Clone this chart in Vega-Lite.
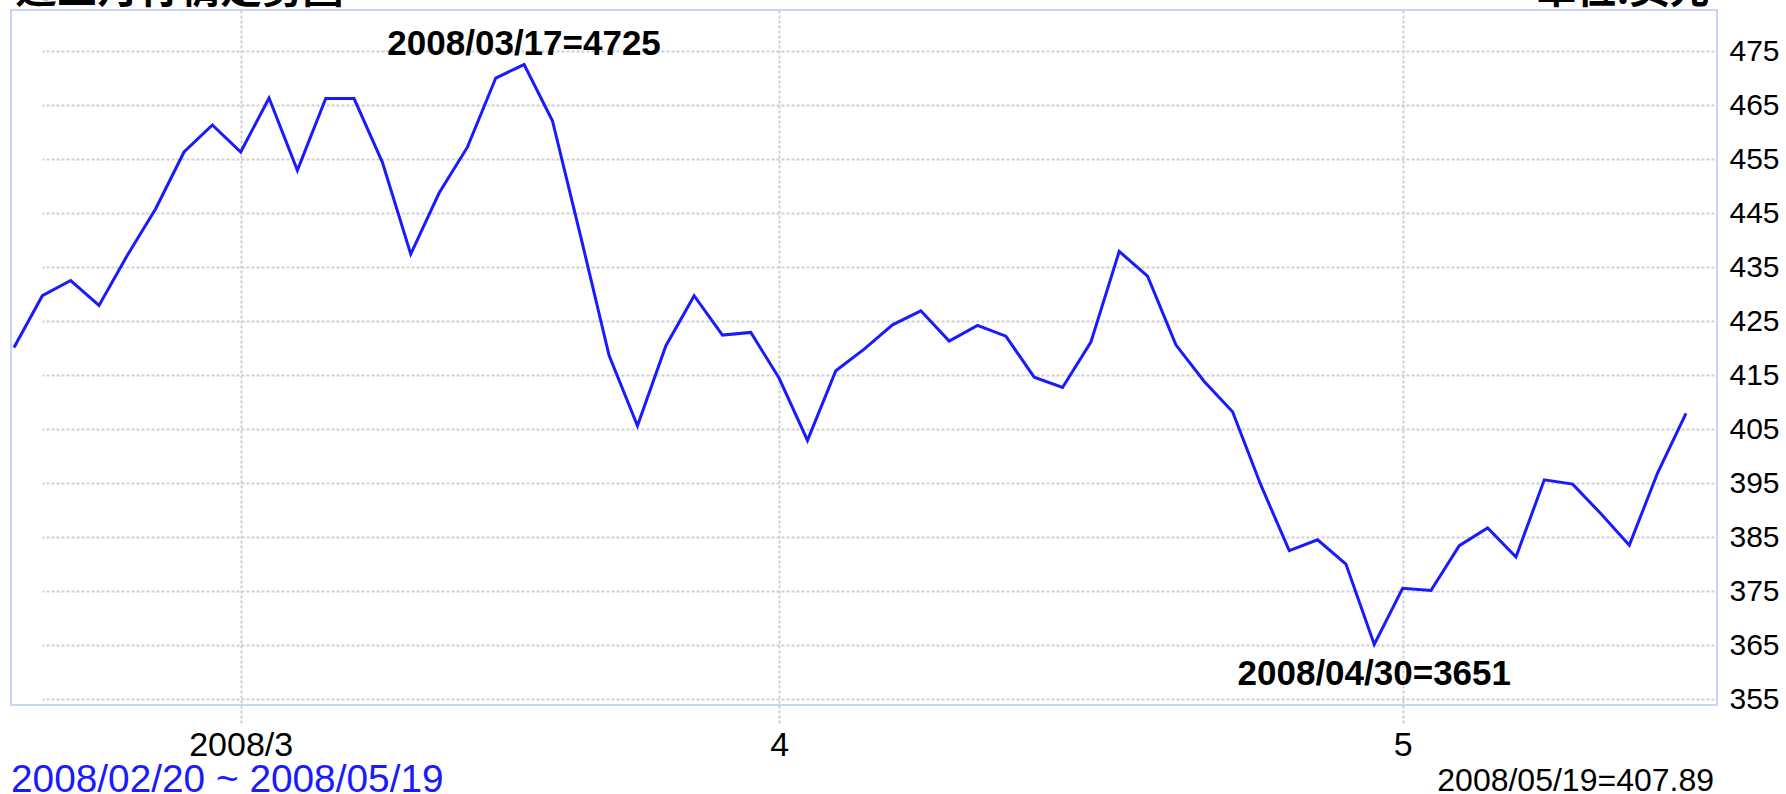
{
  "$schema": "https://vega.github.io/schema/vega-lite/v6.json",
  "width": 1706,
  "height": 695,
  "autosize": {"type": "none"},
  "padding": {"left": 11, "top": 10, "right": 69, "bottom": 89},
  "background": "white",
  "config": {
    "view": {"stroke": "#c8d6f8", "strokeWidth": 2},
    "font": "Liberation Sans"
  },
  "data": {
    "values": [
      {"date": "2008/02/20", "value": 420.1, "label": "2008/02/20 ~ 2008/05/19"},
      {"date": "2008/02/21", "value": 429.7},
      {"date": "2008/02/22", "value": 432.5},
      {"date": "2008/02/25", "value": 427.9},
      {"date": "2008/02/26", "value": 437.2},
      {"date": "2008/02/27", "value": 445.8},
      {"date": "2008/02/28", "value": 456.3},
      {"date": "2008/02/29", "value": 461.3},
      {"date": "2008/03/03", "value": 456.3},
      {"date": "2008/03/04", "value": 466.3},
      {"date": "2008/03/05", "value": 452.9},
      {"date": "2008/03/06", "value": 466.2},
      {"date": "2008/03/07", "value": 466.2},
      {"date": "2008/03/10", "value": 454.4},
      {"date": "2008/03/11", "value": 437.4},
      {"date": "2008/03/12", "value": 448.7},
      {"date": "2008/03/13", "value": 457.2},
      {"date": "2008/03/14", "value": 470.0},
      {"date": "2008/03/17", "value": 472.5, "label": "2008/03/17=4725"},
      {"date": "2008/03/18", "value": 462.1},
      {"date": "2008/03/19", "value": 440.6},
      {"date": "2008/03/20", "value": 418.6},
      {"date": "2008/03/25", "value": 405.6},
      {"date": "2008/03/26", "value": 420.4},
      {"date": "2008/03/27", "value": 429.7},
      {"date": "2008/03/28", "value": 422.4},
      {"date": "2008/03/31", "value": 422.9},
      {"date": "2008/04/01", "value": 414.4},
      {"date": "2008/04/02", "value": 402.9},
      {"date": "2008/04/03", "value": 415.8},
      {"date": "2008/04/04", "value": 419.8},
      {"date": "2008/04/07", "value": 424.3},
      {"date": "2008/04/08", "value": 426.9},
      {"date": "2008/04/09", "value": 421.3},
      {"date": "2008/04/10", "value": 424.2},
      {"date": "2008/04/11", "value": 422.2},
      {"date": "2008/04/14", "value": 414.6},
      {"date": "2008/04/15", "value": 412.7},
      {"date": "2008/04/16", "value": 421.1},
      {"date": "2008/04/17", "value": 437.9},
      {"date": "2008/04/18", "value": 433.3},
      {"date": "2008/04/21", "value": 420.6},
      {"date": "2008/04/22", "value": 413.8},
      {"date": "2008/04/23", "value": 408.2},
      {"date": "2008/04/24", "value": 394.6},
      {"date": "2008/04/25", "value": 382.5},
      {"date": "2008/04/28", "value": 384.5},
      {"date": "2008/04/29", "value": 380.0},
      {"date": "2008/04/30", "value": 365.1, "label": "2008/04/30=3651"},
      {"date": "2008/05/02", "value": 375.5},
      {"date": "2008/05/05", "value": 375.1},
      {"date": "2008/05/06", "value": 383.4},
      {"date": "2008/05/07", "value": 386.7},
      {"date": "2008/05/08", "value": 381.3},
      {"date": "2008/05/09", "value": 395.6},
      {"date": "2008/05/13", "value": 394.8},
      {"date": "2008/05/14", "value": 389.3},
      {"date": "2008/05/15", "value": 383.5},
      {"date": "2008/05/16", "value": 396.9},
      {"date": "2008/05/19", "value": 407.89, "label": "2008/05/19=407.89"}
    ]
  },
  "encoding": {
    "x": {
      "field": "date",
      "type": "ordinal",
      "sort": null,
      "scale": {"type": "point", "range": [3, 1675], "padding": 0},
      "axis": {
        "values": ["2008/03/03", "2008/04/01", "2008/05/02"],
        "labelExpr": "datum.value == '2008/03/03' ? '2008/3' : (datum.value == '2008/04/01' ? '4' : '5')",
        "labelAngle": 0,
        "labelFont": "Liberation Sans",
        "labelFontSize": 34,
        "labelColor": "black",
        "labelPadding": 5,
        "domain": false,
        "ticks": true,
        "tickSize": 18,
        "tickColor": "#d0d0d0",
        "tickWidth": 2,
        "tickDash": [3, 2],
        "grid": true,
        "gridColor": "#d0d0d0",
        "gridWidth": 2,
        "gridDash": [3, 2],
        "title": "近三月行情走勢圖",
        "titleFont": "Noto Sans CJK TC",
        "titleColor": "black",
        "titleFontSize": 41,
        "titleFontWeight": "bold",
        "titleAnchor": "start",
        "titleAlign": "left",
        "titleX": 4,
        "titleY": -703,
        "titleBaseline": "alphabetic"
      }
    },
    "y": {
      "field": "value",
      "type": "quantitative",
      "scale": {"domain": [353.9, 482.6], "nice": false, "zero": false},
      "axis": {
        "orient": "right",
        "values": [355, 365, 375, 385, 395, 405, 415, 425, 435, 445, 455, 465, 475],
        "domain": false,
        "ticks": false,
        "labelPadding": 12,
        "labelFont": "Liberation Sans",
        "labelFontSize": 30,
        "labelColor": "black",
        "labelAlign": "left",
        "labelBaseline": "middle",
        "grid": true,
        "gridColor": "#d0d0d0",
        "gridWidth": 2,
        "gridDash": [3, 2],
        "title": "單位:美元",
        "titleAngle": 0,
        "titleX": -8,
        "titleY": -8,
        "titleAlign": "right",
        "titleBaseline": "alphabetic",
        "titleFont": "Noto Sans CJK TC",
        "titleFontSize": 40,
        "titleFontWeight": "bold",
        "titleColor": "black"
      }
    }
  },
  "layer": [
    {
      "mark": {"type": "line", "color": "#1a1aff", "strokeWidth": 3}
    },
    {
      "transform": [{"filter": "datum.date == '2008/03/17'"}],
      "mark": {"type": "text", "font": "Liberation Sans", "fontSize": 35, "fontWeight": "bold", "color": "black", "align": "center", "baseline": "alphabetic", "dy": -10},
      "encoding": {"text": {"field": "label"}}
    },
    {
      "transform": [{"filter": "datum.date == '2008/04/30'"}],
      "mark": {"type": "text", "font": "Liberation Sans", "fontSize": 35, "fontWeight": "bold", "color": "black", "align": "center", "baseline": "alphabetic", "dy": 40},
      "encoding": {"text": {"field": "label"}}
    },
    {
      "transform": [{"filter": "datum.date == '2008/05/19'"}],
      "mark": {"type": "text", "font": "Liberation Sans", "fontSize": 32, "color": "black", "align": "right", "baseline": "alphabetic", "dx": 28, "dy": 378},
      "encoding": {"text": {"field": "label"}}
    },
    {
      "transform": [{"filter": "datum.date == '2008/02/20'"}],
      "mark": {"type": "text", "font": "Liberation Sans", "fontSize": 38.8, "color": "#1a1aff", "align": "left", "baseline": "alphabetic", "dx": -3, "dy": 444.5},
      "encoding": {"text": {"field": "label"}}
    }
  ]
}
